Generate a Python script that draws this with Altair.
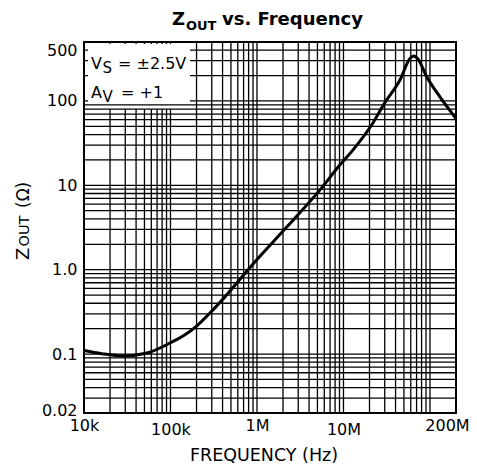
import altair as alt
import pandas as pd

FONT = "DejaVu Sans"

# ---- data ----
freq_hz = [1.0e4, 1.6e4, 2.83e4, 5.35e4, 1.0e5, 1.47e5, 2.02e5, 3.1e5, 4.26e5, 9.0e5,
           2.22e6, 5.35e6, 9.12e6, 1.29e7, 2.19e7, 3.0e7, 4.5e7, 5.87e7,
           6.53e7, 7.26e7, 9.2e7, 1.31e8, 2.0e8]
zout_ohm = [0.110, 0.101, 0.095, 0.103, 0.136, 0.169, 0.216, 0.334, 0.476, 1.17,
            3.22, 8.83, 17.5, 26.3, 54.8, 95.0, 177.0, 318.0,
            341.0, 314.0, 192.0, 111.0, 62.0]

xtick_vals = [1e4, 1e5, 1e6, 1e7, 2e8]
xtick_labels = ["10k", "100k", "1M", "10M", "200M"]
ytick_vals = [0.02, 0.1, 1, 10, 100, 500]
ytick_labels = ["0.02", "0.1", "1.0", "10", "100", "500"]

xgrid_vals = [m * 10 ** e for e in range(4, 9) for m in range(1, 10) if m * 10 ** e <= 2e8]
ygrid_vals = [m * 10.0 ** e for e in range(-2, 3) for m in range(1, 10)
              if 0.02 <= m * 10.0 ** e <= 500]

curve = pd.DataFrame({"f": freq_hz, "z": zout_ohm})
xg = pd.DataFrame({"f": xgrid_vals})
yg = pd.DataFrame({"z": ygrid_vals})
yg_hi = yg[yg["z"] >= 100]
yg_lo = yg[yg["z"] < 100]

xscale = alt.Scale(type="log", domain=[1e4, 2e8], nice=False)
yscale = alt.Scale(type="log", domain=[0.02, 500], nice=False)


def ternary(vals, labels):
    parts = [f"datum.value == {v!r} ? '{l}'" for v, l in zip(vals, labels)]
    return " : ".join(parts) + " : ''"


xaxis = alt.Axis(
    values=xtick_vals,
    labelExpr=ternary([float(v) for v in xtick_vals], xtick_labels),
    grid=False, ticks=False, domain=False, title=None,
    labelFont=FONT, labelFontSize=16, labelColor="black",
    labelOverlap=False, labelFlush=False, labelBound=False,
    labelPadding={"condition": {"test": "datum.value == 100000 || datum.value == 10000000", "value": 8}, "value": 4},
    labelOffset={"condition": {"test": "datum.value > 100000000", "value": -9}, "value": 0},
)
yaxis = alt.Axis(
    values=ytick_vals,
    labelExpr=ternary([float(v) for v in ytick_vals], ytick_labels),
    grid=False, ticks=False, domain=False, title=None,
    labelFont=FONT, labelFontSize=16, labelColor="black",
    labelOverlap=False, labelFlush=False, labelBound=False, labelPadding=7,
    labelBaseline={"condition": {"test": "datum.value >= 500", "value": "top"}, "value": "middle"},
    labelOffset={"condition": {"test": "datum.value < 0.05", "value": -3}, "value": 0},
)

vrules = alt.Chart(xg).mark_rule(color="black", strokeWidth=1.3).encode(
    x=alt.X("f:Q", scale=xscale, axis=xaxis))
hrules_hi = alt.Chart(yg_hi).mark_rule(color="black", strokeWidth=1.3).encode(
    y=alt.Y("z:Q", scale=yscale, axis=yaxis))
hrules_lo = alt.Chart(yg_lo).mark_rule(color="black", strokeWidth=1.3).encode(
    y=alt.Y("z:Q", scale=yscale, axis=yaxis))

one = pd.DataFrame({"k": [0]})
box = alt.Chart(one).mark_rect(color="white").encode(
    x=alt.value(4), x2=alt.value(106), y=alt.value(2), y2=alt.value(67))

line = alt.Chart(curve).mark_line(color="black", strokeWidth=3, interpolate="monotone").encode(
    x=alt.X("f:Q", scale=xscale, axis=xaxis),
    y=alt.Y("z:Q", scale=yscale, axis=yaxis),
)


def txt(t, x, y, size, weight="normal", angle=0, align="left"):
    return alt.Chart(one).mark_text(
        text=t, font=FONT, fontSize=size, fontWeight=weight, angle=angle,
        align=align, baseline="alphabetic", color="black"
    ).encode(x=alt.value(x), y=alt.value(y))


texts = [
    # title
    txt("Z", 88, -17, 18, "bold"),
    txt("OUT", 102, -12.5, 13, "bold"),
    txt("vs. Frequency", 138, -17, 18, "bold"),
    # annotation
    txt("V", 7, 26.5, 16),
    txt("S", 18.5, 30.5, 15),
    txt("= \u00b12.5V", 34, 26.5, 16),
    txt("A", 7, 56, 16),
    txt("V", 18.5, 60, 15),
    txt("= +1", 37, 56, 16),
    # y title
    txt("Z", -55, 218, 18, angle=270),
    txt("OUT", -55.5, 204.5, 14.5, angle=270),
    txt("(\u03a9)", -55.5, 166, 17, angle=270),
    # x title
    txt("FREQUENCY  (Hz)", 180, 419, 17.5, align="center"),
]

chart = alt.layer(vrules, hrules_hi, box, hrules_lo, line, *texts).properties(
    width=372, height=371,
    autosize=alt.AutoSizeParams(type="none"),
    padding={"left": 76, "top": 34, "right": 13, "bottom": 54},
).configure_view(stroke="black", strokeWidth=2)

chart.save("out.html", embed_options={"renderer": "svg", "actions": False})
